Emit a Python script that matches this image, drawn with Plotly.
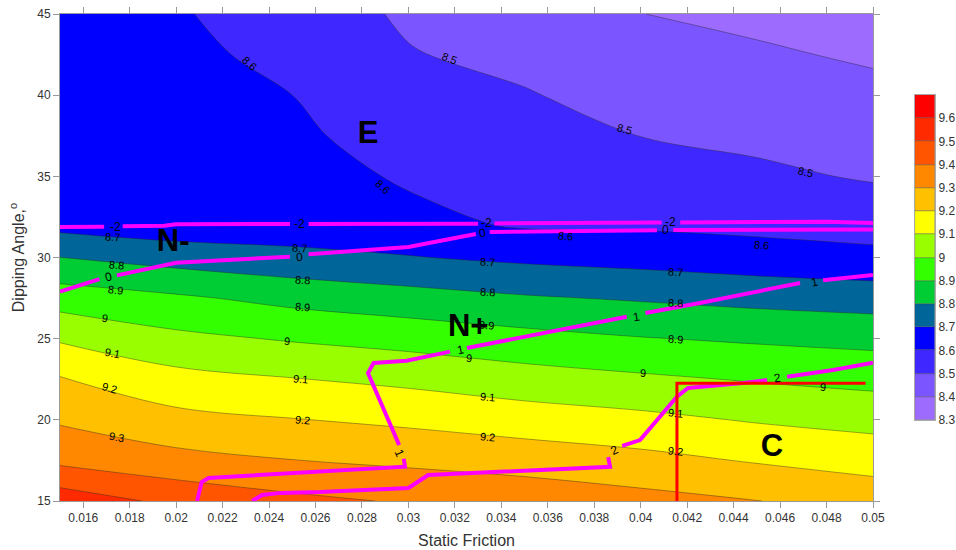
import plotly.graph_objects as go

# ---------------- data ----------------
friction = [0.015, 0.02, 0.025, 0.03, 0.035, 0.04, 0.045, 0.05]
angle = [15, 17.5, 20, 22.5, 25, 27.5, 30, 32, 35, 37.5, 40, 42.5, 45]
z_values = [
    [9.56, 9.475, 9.425, 9.39, 9.365, 9.333, 9.302, 9.258],
    [9.377, 9.332, 9.302, 9.28, 9.257, 9.229, 9.192, 9.162],
    [9.288, 9.230, 9.204, 9.18, 9.15, 9.125, 9.092, 9.067],
    [9.208, 9.133, 9.104, 9.077, 9.043, 9.017, 8.992, 8.972],
    [9.088, 9.024, 8.991, 8.964, 8.932, 8.905, 8.886, 8.87],
    [8.954, 8.915, 8.871, 8.839, 8.81, 8.79, 8.77, 8.755],
    [8.801, 8.759, 8.728, 8.705, 8.68, 8.663, 8.642, 8.625],
    [8.669, 8.641, 8.645, 8.628, 8.59, 8.587, 8.576, 8.561],
    [8.66, 8.635, 8.64, 8.588, 8.562, 8.539, 8.518, 8.491],
    [8.65, 8.63, 8.622, 8.548, 8.534, 8.499, 8.479, 8.457],
    [8.645, 8.625, 8.60, 8.525, 8.506, 8.466, 8.445, 8.423],
    [8.64, 8.618, 8.58, 8.505, 8.476, 8.433, 8.412, 8.388],
    [8.635, 8.61, 8.547, 8.488, 8.445, 8.401, 8.379, 8.354],
]

band_colors = ['#9E6BFF', '#7B55FF', '#3F28FF', '#0000FF', '#006699', '#00CC33',
               '#33FF00', '#99FF00', '#FFFF00', '#FFC000', '#FF8800', '#FF5500',
               '#FF2A00', '#FF0000']
level_start, level_end, level_step = 8.3, 9.7, 0.1
band_base = [8.3, 8.4, 8.5, 8.6, 8.7, 8.8, 8.9, 9.0, 9.1, 9.2, 9.3, 9.4, 9.5, 9.6]
band_height = [0.1] * 14
cbar_text = ['8.3', '8.4', '8.5', '8.6', '8.7', '8.8', '8.9', '9', '9.1', '9.2',
             '9.3', '9.4', '9.5', '9.6']

# contour value labels (as placed in the reference)
clabel_t = ['8.6', '8.6', '8.5', '8.5', '8.5', '8.6', '8.6',
            '8.7', '8.7', '8.7', '8.7',
            '8.8', '8.8', '8.8', '8.8',
            '8.9', '8.9', '8.9', '8.9',
            '9', '9', '9', '9', '9',
            '9.1', '9.1', '9.1', '9.1',
            '9.2', '9.2', '9.2', '9.2',
            '9.3']
clabel_x = [0.02314, 0.0289, 0.03175, 0.0393, 0.0471, 0.03678, 0.04522,
            0.01728, 0.02533, 0.03342, 0.04148,
            0.01745, 0.02546, 0.03342, 0.04148,
            0.01741, 0.02546, 0.03334, 0.04148,
            0.01694, 0.02477, 0.03261, 0.0401, 0.04785,
            0.01724, 0.02537, 0.03342, 0.04148,
            0.01715, 0.02546, 0.03342, 0.04148,
            0.01745]
clabel_y = [41.98, 34.34, 42.29, 37.92, 35.27, 31.32, 30.77,
            31.26, 30.58, 29.72, 29.1,
            29.54, 28.61, 27.87, 27.2,
            28.0, 26.95, 25.84, 24.98,
            26.27, 24.86, 23.81, 22.88, 22.02,
            24.12, 22.51, 21.4, 20.42,
            21.96, 19.99, 18.94, 18.08,
            18.94]
clabel_angle = [43, 43, 21, 15, 12, 5, 5,
                4, 4, 3, 3,
                6, 4, 4, 3,
                7, 5, 4, 4,
                10, 5, 5, 4, 4,
                11, 6, 5, 5,
                15, 6, 5, 6,
                10]

# magenta lines (None = label gap)
m2_x = [0.015, 0.0169, None, 0.0177, 0.0195, 0.02, 0.0249, None, 0.0257, 0.03, 0.033,
        None, 0.0337, 0.0409, None, 0.0417, 0.048, 0.05]
m2_y = [31.88, 31.9, None, 31.92, 31.95, 32.05, 32.06, None, 32.06, 32.06, 32.08,
        None, 32.1, 32.15, None, 32.16, 32.2, 32.12]
m0_x = [0.015, 0.0167, None, 0.01745, 0.02, 0.0249, None, 0.0257, 0.03, 0.0329, None,
        0.0335, 0.0407, None, 0.0414, 0.05]
m0_y = [27.9, 28.67, None, 28.9, 29.68, 30.05, None, 30.2, 30.65, 31.45, None,
        31.57, 31.68, None, 31.7, 31.73]
p1_x = [0.0209, 0.0211, 0.0214, 0.0262, 0.02985, 0.0298, None, 0.0296, 0.02826, 0.0285,
        0.02992, 0.03179, None, 0.03252, 0.0394, None, 0.0402, 0.04255, 0.04686, None,
        0.04785, 0.05]
p1_y = [15, 16.17, 16.42, 16.79, 17.11, 17.6, None, 18.45, 22.88, 23.5,
        23.64, 24.2, None, 24.42, 26.35, None, 26.58, 27.2, 28.43, None,
        28.6, 28.92]
p2_x = [0.02327, 0.0237, 0.0245, 0.0262, 0.03, 0.03085, 0.03868, 0.0386, None, 0.0392,
        0.03997, 0.04156, 0.04204, 0.0444, 0.04544, None, 0.0463, 0.04828, 0.05]
p2_y = [15, 15.37, 15.5, 15.55, 15.8, 16.6, 17.11, 17.7, None, 18.4,
        18.75, 21.42, 21.96, 22.27, 22.45, None, 22.66, 23.07, 23.52]

mlabel_x = [0.01737, 0.02533, 0.03334, 0.0413, 0.01707, 0.02533, 0.03317, 0.04105,
            0.0296, 0.03222, 0.0398, 0.0475, 0.03889, 0.04587]
mlabel_y = [31.88, 32.06, 32.1, 32.2, 28.8, 30.03, 31.5, 31.7,
            17.96, 24.3, 26.33, 28.49, 18.14, 22.58]
mlabel_t = ['-2', '-2', '-2', '-2', '0', '0', '0', '0', '1', '1', '1', '1', '2', '2']
mlabel_angle = [0, 0, 0, 0, -12, -3, -10, 0, 65, -12, -10, -12, -25, -8]

red_x = [0.04156, 0.04156, 0.04968]
red_y = [15, 22.25, 22.25]

zone_x = [0.02826, 0.01987, 0.03257, 0.04565]
zone_y = [37.55, 30.9, 25.66, 18.26]
zone_t = ['E', 'N-', 'N+', 'C']

xtick_vals = [0.016, 0.018, 0.02, 0.022, 0.024, 0.026, 0.028, 0.03, 0.032, 0.034,
              0.036, 0.038, 0.04, 0.042, 0.044, 0.046, 0.048, 0.05]
xtick_text = ['0.016', '0.018', '0.02', '0.022', '0.024', '0.026', '0.028', '0.03',
              '0.032', '0.034', '0.036', '0.038', '0.04', '0.042', '0.044', '0.046',
              '0.048', '0.05']
ytick_vals = [15, 20, 25, 30, 35, 40, 45]

# ------------- colorscale (band centres) -------------
n = len(band_colors)
cs = [[0.0, band_colors[0]]]
for i, c in enumerate(band_colors):
    cs.append([(i + 1) / (n + 1), c])
cs.append([1.0, band_colors[-1]])

FONT = 'Liberation Sans, Arial, sans-serif'

fig = go.Figure()
fig.add_trace(go.Contour(
    x=friction, y=angle, z=z_values,
    autocontour=False,
    contours=dict(start=level_start, end=level_end, size=level_step,
                  coloring='fill', showlabels=False),
    colorscale=cs, showscale=False,
    line=dict(width=0.6, color='rgba(40,40,40,0.7)'),
    hoverinfo='skip',
))

for xs, ys in [(m2_x, m2_y), (m0_x, m0_y), (p1_x, p1_y), (p2_x, p2_y)]:
    fig.add_trace(go.Scatter(x=xs, y=ys, mode='lines',
                             line=dict(color='#FF00FF', width=4),
                             connectgaps=False, showlegend=False, hoverinfo='skip'))

fig.add_trace(go.Scatter(x=red_x, y=red_y, mode='lines',
                         line=dict(color='#FF0000', width=3),
                         showlegend=False, hoverinfo='skip'))

fig.add_trace(go.Scatter(x=zone_x, y=zone_y, mode='text',
                         text=['<b>%s</b>' % t for t in zone_t],
                         textfont=dict(size=31, color='black', family=FONT),
                         showlegend=False, hoverinfo='skip'))

# discrete colour bar drawn as stacked boxes
fig.add_trace(go.Bar(x=[0] * len(band_base), y=band_height, base=band_base,
                     width=1, xaxis='x2', yaxis='y2',
                     marker=dict(color=band_colors,
                                 line=dict(color='rgba(70,70,70,0.55)', width=0.7)),
                     showlegend=False, hoverinfo='skip'))

annotations = []
for t, x, y, a in zip(clabel_t, clabel_x, clabel_y, clabel_angle):
    annotations.append(dict(x=x, y=y, xref='x', yref='y', text=t, textangle=a,
                            showarrow=False,
                            font=dict(size=11, color='black', family=FONT)))
for t, x, y, a in zip(mlabel_t, mlabel_x, mlabel_y, mlabel_angle):
    annotations.append(dict(x=x, y=y, xref='x', yref='y', text=t, textangle=a,
                            showarrow=False,
                            font=dict(size=12, color='black', family=FONT)))

axis_common = dict(showline=True, linecolor='#999', linewidth=1, mirror='ticks',
                   ticks='outside', ticklen=6, tickcolor='#999', showgrid=False,
                   zeroline=False, tickfont=dict(size=12, color='#333', family=FONT))

PLOT_W = 956 - 60
fig.update_layout(
    xaxis=dict(domain=[0, 813 / PLOT_W], range=[0.015, 0.05],
               tickvals=xtick_vals, ticktext=xtick_text,
               title=dict(text='Static Friction', standoff=10,
                          font=dict(size=16, color='#333', family=FONT)),
               **axis_common),
    yaxis=dict(range=[15, 45], tickvals=ytick_vals,
               title=dict(text='Dipping Angle,<sup>o</sup>', standoff=8,
                          font=dict(size=16, color='#333', family=FONT)),
               **axis_common),
    xaxis2=dict(domain=[855 / PLOT_W, 875 / PLOT_W], anchor='y2', range=[-0.5, 0.5],
                showticklabels=False, ticks='', showgrid=False, zeroline=False,
                showline=True, mirror=True, linecolor='#aaa', linewidth=1,
                fixedrange=True),
    yaxis2=dict(domain=[81 / 487, 406 / 487], anchor='x2', side='right',
                range=[8.3, 9.7], tickvals=band_base, ticktext=cbar_text,
                ticks='', showgrid=False, zeroline=False,
                showline=True, mirror=True, linecolor='#aaa', linewidth=1,
                tickfont=dict(size=12, color='#333', family=FONT), fixedrange=True),
    annotations=annotations,
    width=956, height=550,
    margin=dict(l=60, r=0, t=14, b=49, autoexpand=False),
    plot_bgcolor='white', paper_bgcolor='white',
    showlegend=False, font=dict(family=FONT), bargap=0,
)

fig.write_html('out.html', config={'displayModeBar': False},
               post_script="document.body.style.margin='0px';"
                           "document.body.style.overflow='hidden';")
